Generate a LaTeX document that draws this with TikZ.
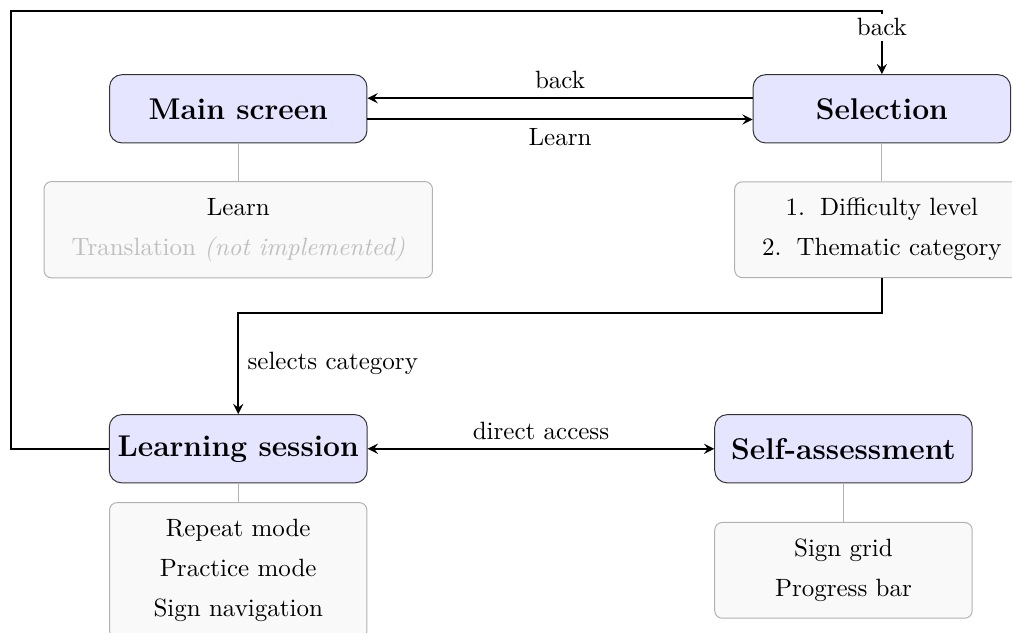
\documentclass[tikz,border=0pt]{standalone}
\usepackage{tikz}
\usetikzlibrary{arrows,shapes}

\begin{document}
\begin{tikzpicture}[
    screen/.style={draw=black!80,fill=blue!10,rounded corners=5pt,minimum width=3.62cm,minimum height=0.96cm,font=\large\bfseries},
    feat/.style={draw=gray!60,fill=gray!5,rounded corners=3pt,align=center,minimum width=3.62cm,inner xsep=11pt,inner ysep=6.6pt},
    flow/.style={thick,-stealth},
    tie/.style={gray!60}]
    \useasboundingbox (0,0) rectangle (14.23,-8.89);
    \node[screen] (main) at (3.35,-1.53) {Main screen};
    \node[screen] (sel) at (12.40,-1.53) {Selection};
    \node[screen] (learn) at (3.35,-6.31) {Learning session};
    \node[screen] (self) at (11.86,-6.31) {Self-assessment};
    \node[feat] (mainlist) at (3.35,-3.23) {Learn\\[4pt]\textcolor{gray!50}{Translation \textit{(not implemented)}}};
    \node[feat,minimum width=4cm] (sellist) at (12.40,-3.23) {1.\hspace{6pt}Difficulty level\\[4pt]2.\hspace{6pt}Thematic category};
    \node[feat] (learnlist) at (3.35,-8.02) {Repeat mode\\[4pt]Practice mode\\[4pt]Sign navigation};
    \node[feat] (selflist) at (11.86,-8.02) {Sign grid\\[4pt]Progress bar};
    \draw[tie] (main.south) -- (mainlist.north);
    \draw[tie] (sel.south) -- (sellist.north);
    \draw[tie] (learn.south) -- (learnlist.north);
    \draw[tie] (self.south) -- (selflist.north);
    \draw[flow] ([yshift=0.15cm]sel.west) -- node[above,fill=white]{back} ([yshift=0.15cm]main.east);
    \draw[flow] ([yshift=-0.15cm]main.east) -- node[below,fill=white]{Learn} ([yshift=-0.15cm]sel.west);
    \coordinate (bend) at (3.35,-4.40);
    \draw[flow] (sellist.south) |- (bend) -- node[right]{selects category} (learn.north);
    \draw[flow,stealth-stealth] (learn.east) -- node[above,fill=white]{direct access} (self.west);
    \coordinate (corner) at (0.155,-0.155);
    \draw[flow] (learn.west) -| (corner) -| node[pos=0.63,fill=white,inner ysep=2pt]{back} (sel.north);
\end{tikzpicture}
\end{document}
